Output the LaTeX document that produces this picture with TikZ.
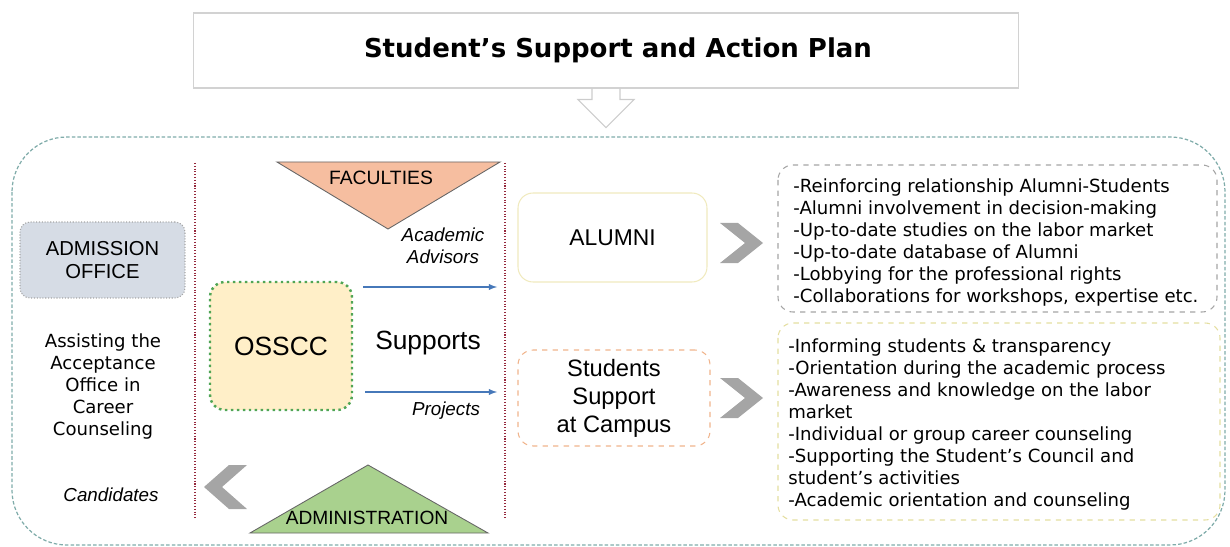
\documentclass[tikz,border=0pt]{standalone}
\usepackage{fontspec}
\setmainfont{Liberation Sans}
\newfontfamily\dejavu{DejaVu Sans}
\usetikzlibrary{calc,shapes,arrows}

\definecolor{outerline}{RGB}{128,172,170}
\definecolor{facfill}{RGB}{246,190,160}
\definecolor{admfill}{RGB}{169,209,142}
\definecolor{offfill}{RGB}{214,220,229}
\definecolor{osfill}{RGB}{255,239,200}
\definecolor{osline}{RGB}{80,165,85}
\definecolor{sepline}{RGB}{150,40,60}
\definecolor{bluearr}{RGB}{70,120,185}
\definecolor{chevgray}{RGB}{165,165,165}
\definecolor{alline}{RGB}{240,234,190}
\definecolor{stline}{RGB}{240,180,140}
\definecolor{listgray}{RGB}{165,165,165}
\definecolor{listyel}{RGB}{228,222,160}

\begin{document}
\begin{tikzpicture}[x=0.02cm,y=-0.02cm,
    box/.style={rounded corners=#1,line width=0.6pt,align=center,inner sep=0pt},
    tri/.style={line width=0.5pt,draw=gray!80!black},
    itl/.style={font=\itshape\fontsize{10.7}{12.5}\selectfont,align=center},
    listtxt/.style={font=\dejavu\fontsize{10.3}{12.52}\selectfont,align=left,inner sep=0pt,anchor=north west},
    chev/.style={fill=chevgray},
    blarr/.style={-latex,bluearr,line width=0.6pt}]
    \useasboundingbox (0,0) rectangle (1230,547);

    \node[draw=gray!35,line width=0.6pt,minimum width=16.52cm,minimum height=1.5cm,
        font=\dejavu\bfseries\fontsize{14.8}{17}\selectfont] (title) at (606,50.5)
        {\hspace*{0.48cm}Student’s Support and Action Plan};
    \draw[gray!40,line width=0.6pt] ($(title.south)+(-14,0)$) -- ++(0,11) -- ++(-14,0)
        -- ++(28,28) -- ++(28,-28) -- ++(-14,0) -- ++(0,-11);

    \draw[outerline,line width=0.7pt,dash pattern=on 2pt off 1.2pt,rounded corners=1.1cm]
        (12,137) rectangle (1225,545);

    \foreach \x in {195,505}
        \draw[sepline,line width=0.6pt,densely dotted] (\x,163) -- (\x,520);

    \draw[tri,fill=facfill] (277,162) -- (500,162) -- (388,229) -- cycle;
    \node[font=\fontsize{11}{13}\selectfont] (fac) at (381,178) {FACULTIES};
    \draw[tri,fill=admfill] (368,465) -- (488,533) -- (250,533) -- cycle;
    \node[font=\fontsize{10.9}{13}\selectfont] (adm) at (367,518) {ADMINISTRATION};

    \node[box=0.2cm,draw=gray!70,fill=offfill,densely dotted,minimum width=3.3cm,minimum height=1.52cm,
        font=\fontsize{11.5}{13}\selectfont] (office) at (102.5,260) {ADMISSION\\OFFICE};
    \node[font=\dejavu\fontsize{10.3}{12.52}\selectfont,align=center,inner sep=0pt,anchor=north]
        (assist) at (103,333) {Assisting the\\Acceptance\\Office in\\Career\\Counseling};
    \node[itl] (cand) at (111,495) {Candidates};
    \fill[chev] (247,465) -- (229,465) -- (204,487) -- (229,509) -- (247,509) -- (222,487) -- cycle;

    \node[box=0.3cm,draw=osline,fill=osfill,line width=1.4pt,dotted,minimum width=2.84cm,minimum height=2.56cm,
        font=\fontsize{15}{17}\selectfont] (ossc) at (281,346) {OSSCC};
    \node[font=\fontsize{15}{17}\selectfont] (sup) at (428,343) {Supports};
    \node[itl] (adv) at (443,246) {Academic\\Advisors};
    \node[itl] (proj) at (446,411) {Projects};
    \coordinate (advs) at (363,287);
    \coordinate (adve) at (497,287);
    \coordinate (projs) at (365,392);
    \coordinate (proje) at (497,392);
    \draw[blarr] (advs) -- (adve);
    \draw[blarr] (projs) -- (proje);

    \node[box=0.3cm,draw=alline,minimum width=3.78cm,minimum height=1.78cm,
        font=\fontsize{13}{16}\selectfont] (alumni) at (612.5,237.5) {ALUMNI};
    \node[box=0.3cm,draw=stline,dashed,minimum width=3.84cm,minimum height=1.92cm,
        font=\fontsize{13.5}{16}\selectfont] (stud) at (614,398) {Students\\Support\\at Campus};
    \foreach \y in {243,398}
        \fill[chev] (720,\y-20) -- (738,\y-20) -- (763,\y) -- (738,\y+20) -- (720,\y+20) -- (745,\y) -- cycle;

    \draw[listgray,line width=0.6pt,dashed,rounded corners=0.3cm] (778,165) rectangle (1217,312);
    \node[listtxt] (alulist) at (793,178) {-Reinforcing relationship Alumni-Students\\
        -Alumni involvement in decision-making\\
        -Up-to-date studies on the labor market\\
        -Up-to-date database of Alumni\\
        -Lobbying for the professional rights\\
        -Collaborations for workshops, expertise etc.};
    \draw[listyel,line width=0.6pt,dashed,rounded corners=0.3cm] (778,323) rectangle (1220,520);
    \node[listtxt] (studlist) at (788,338) {-Informing students \& transparency\\
        -Orientation during the academic process\\
        -Awareness and knowledge on the labor\\
        market\\
        -Individual or group career counseling\\
        -Supporting the Student’s Council and\\
        student’s activities\\
        -Academic orientation and counseling};
\end{tikzpicture}
\end{document}
